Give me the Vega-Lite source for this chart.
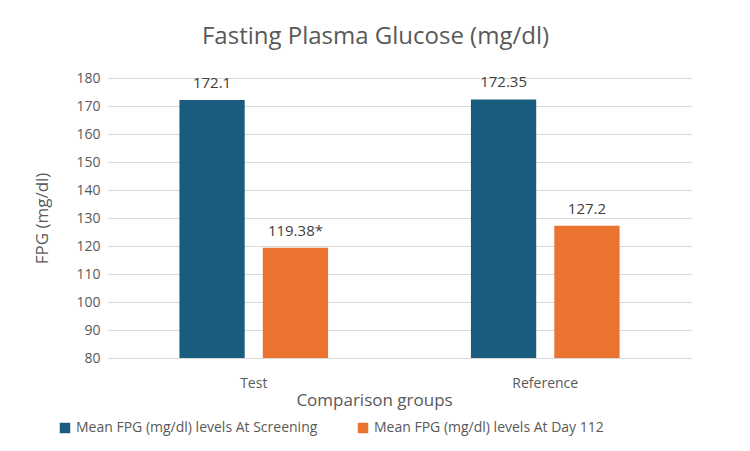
{
  "$schema": "https://vega.github.io/schema/vega-lite/v6.json",
  "autosize": "none",
  "width": 583,
  "height": 280,
  "padding": {"left": 108, "top": 78, "right": 59, "bottom": 93},
  "background": "white",
  "config": {
    "font": "Open Sans",
    "view": {"stroke": null},
    "axis": {"labelColor": "#595959", "titleColor": "#595959", "labelFont": "Open Sans", "titleFont": "Open Sans"}
  },
  "title": {"text": "Fasting Plasma Glucose (mg/dl)", "fontSize": 24, "font": "Open Sans", "fontWeight": "normal", "color": "#595959", "offset": 22, "anchor": "middle", "dx": -24},
  "data": {"values": [
    {"group": "Test", "series": "Mean FPG (mg/dl) levels At Screening", "value": 172.1, "label": "172.1"},
    {"group": "Test", "series": "Mean FPG (mg/dl) levels At Day 112", "value": 119.38, "label": "119.38*"},
    {"group": "Reference", "series": "Mean FPG (mg/dl) levels At Screening", "value": 172.35, "label": "172.35"},
    {"group": "Reference", "series": "Mean FPG (mg/dl) levels At Day 112", "value": 127.2, "label": "127.2"}
  ]},
  "encoding": {
    "x": {"field": "group", "type": "nominal", "sort": ["Test", "Reference"],
      "scale": {"paddingInner": 0.49, "paddingOuter": 0.245},
      "axis": {"title": "Comparison groups", "labelAngle": 0, "labelFontSize": 14, "titleFontSize": 17, "titleFontWeight": "normal", "ticks": false, "domain": false, "labelPadding": 18, "titlePadding": 2, "titleX": 266}},
    "xOffset": {"field": "series", "type": "nominal", "sort": ["Mean FPG (mg/dl) levels At Screening", "Mean FPG (mg/dl) levels At Day 112"], "scale": {"paddingInner": 0.217, "paddingOuter": 0}},
    "y": {"field": "value", "type": "quantitative",
      "scale": {"domain": [80, 180], "nice": false, "zero": false},
      "axis": {"title": "FPG (mg/dl)", "values": [80, 90, 100, 110, 120, 130, 140, 150, 160, 170, 180], "labelFontSize": 14, "titleFontSize": 17, "titleFontWeight": "normal", "ticks": false, "domain": false, "labelPadding": 8, "titlePadding": 24, "gridColor": "#D9D9D9", "gridWidth": 1}}
  },
  "layer": [
    {"mark": {"type": "bar", "clip": true},
      "encoding": {
        "color": {"field": "series", "type": "nominal", "sort": ["Mean FPG (mg/dl) levels At Screening", "Mean FPG (mg/dl) levels At Day 112"],
          "scale": {"range": ["#1A5C7E", "#EB7332"]},
          "legend": {"title": null, "orient": "none", "direction": "horizontal", "legendX": -50, "legendY": 343, "symbolType": "square", "symbolSize": 110, "symbolStrokeWidth": 0, "labelFontSize": 14, "labelColor": "#595959", "labelFont": "Open Sans", "columnPadding": 38, "labelOffset": 4, "labelLimit": 400}}
      }},
    {"mark": {"type": "text", "baseline": "bottom", "dy": -9, "fontSize": 15, "color": "#404040", "font": "Open Sans"},
      "encoding": {"text": {"field": "label"}}}
  ]
}
